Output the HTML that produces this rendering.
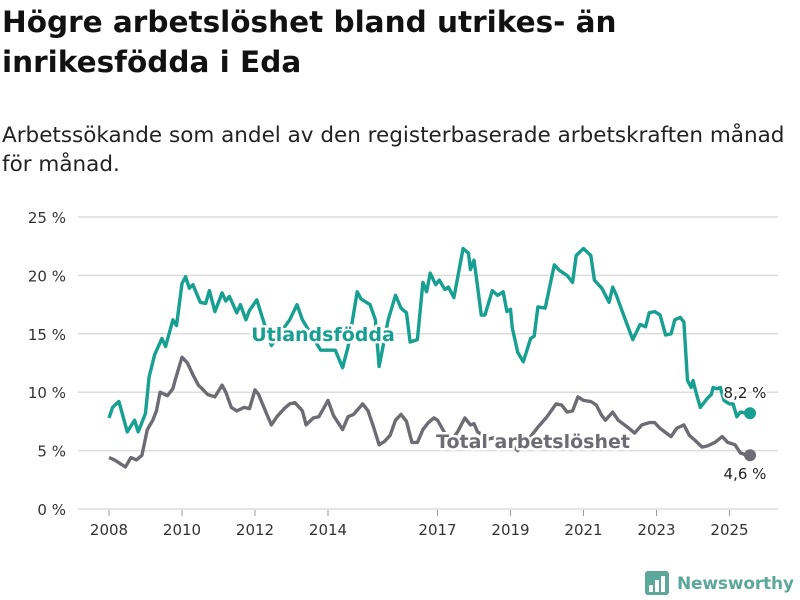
<!DOCTYPE html>
<html><head><meta charset="utf-8"><style>
body{margin:0;background:#fff;font-family:"Liberation Sans","DejaVu Sans",sans-serif;}
#wrap{position:relative;width:800px;height:600px;overflow:hidden;}
h1{position:absolute;left:2px;top:2px;margin:0;font-size:29.5px;line-height:40px;font-weight:bold;color:#111;font-family:"DejaVu Sans","Liberation Sans",sans-serif;letter-spacing:0px}
p.sub{position:absolute;left:2px;top:121px;margin:0;font-size:21.5px;line-height:29px;color:#222;font-family:"DejaVu Sans","Liberation Sans",sans-serif;letter-spacing:0px}
</style></head><body><div id="wrap">
<h1>Högre arbetslöshet bland utrikes- än<br>inrikesfödda i Eda</h1>
<p class="sub">Arbetssökande som andel av den registerbaserade arbetskraften månad<br>för månad.</p>
<svg id="chart" width="800" height="600" style="position:absolute;left:0;top:0"></svg>
</div>
<script>
const yTicks=[0,5,10,15,20,25];
const xTickYears=[2008,2010,2012,2014,2017,2019,2021,2023,2025];
const utlYears=[2008.0,2008.1,2008.27,2008.5,2008.7,2008.8,2009.0,2009.1,2009.25,2009.45,2009.55,2009.75,2009.85,2010.0,2010.1,2010.2,2010.3,2010.5,2010.65,2010.75,2010.9,2011.1,2011.2,2011.3,2011.5,2011.6,2011.75,2011.85,2012.05,2012.2,2012.45,2012.95,2013.15,2013.3,2013.8,2014.2,2014.4,2014.55,2014.8,2014.9,2015.05,2015.15,2015.3,2015.4,2015.65,2015.85,2016.0,2016.15,2016.25,2016.45,2016.6,2016.7,2016.8,2016.95,2017.05,2017.2,2017.3,2017.45,2017.7,2017.85,2017.9,2018.0,2018.05,2018.2,2018.3,2018.5,2018.65,2018.8,2018.9,2019.0,2019.05,2019.2,2019.35,2019.55,2019.65,2019.75,2019.95,2020.2,2020.35,2020.55,2020.7,2020.8,2021.0,2021.2,2021.3,2021.5,2021.7,2021.8,2021.9,2022.1,2022.35,2022.55,2022.7,2022.8,2022.95,2023.1,2023.25,2023.4,2023.5,2023.65,2023.75,2023.85,2023.95,2024.0,2024.1,2024.2,2024.4,2024.5,2024.55,2024.65,2024.75,2024.85,2025.0,2025.1,2025.2,2025.3,2025.48];
const utlValues=[7.8,8.7,9.2,6.6,7.6,6.6,8.2,11.3,13.2,14.6,13.9,16.2,15.7,19.3,19.9,18.9,19.2,17.7,17.6,18.7,16.9,18.5,17.8,18.2,16.8,17.5,16.2,17.0,17.9,16.4,14.0,16.2,17.5,16.2,13.6,13.6,12.1,13.9,18.6,18.0,17.7,17.5,16.2,12.2,16.2,18.3,17.2,16.8,14.3,14.5,19.4,18.6,20.2,19.2,19.6,18.8,19.0,18.1,22.3,21.9,20.5,21.3,20.2,16.6,16.6,18.7,18.3,18.6,16.9,17.1,15.5,13.4,12.6,14.6,14.8,17.3,17.2,20.9,20.4,20.0,19.4,21.7,22.3,21.7,19.6,18.9,17.7,19.0,18.3,16.6,14.5,15.8,15.6,16.8,16.9,16.6,14.9,15.0,16.2,16.4,16.0,11.0,10.4,11.0,9.8,8.7,9.5,9.8,10.4,10.3,10.4,9.3,9.0,9.0,7.9,8.3,8.2];
const totYears=[2008.0,2008.15,2008.45,2008.6,2008.75,2008.9,2009.05,2009.2,2009.3,2009.4,2009.6,2009.75,2009.8,2010.0,2010.15,2010.3,2010.45,2010.55,2010.7,2010.9,2011.1,2011.2,2011.35,2011.5,2011.7,2011.85,2012.0,2012.1,2012.3,2012.45,2012.6,2012.8,2012.95,2013.1,2013.3,2013.4,2013.6,2013.75,2014.0,2014.15,2014.4,2014.55,2014.7,2014.95,2015.1,2015.25,2015.4,2015.55,2015.7,2015.85,2016.0,2016.15,2016.3,2016.45,2016.6,2016.75,2016.9,2017.0,2017.2,2017.4,2017.55,2017.75,2017.9,2018.0,2018.1,2018.4,2018.7,2019.0,2019.2,2019.5,2019.75,2020.0,2020.25,2020.4,2020.55,2020.7,2020.85,2021.0,2021.2,2021.35,2021.5,2021.6,2021.8,2021.95,2022.25,2022.4,2022.6,2022.8,2022.95,2023.1,2023.4,2023.55,2023.75,2023.9,2024.05,2024.25,2024.4,2024.6,2024.8,2024.95,2025.15,2025.3,2025.48];
const totValues=[4.4,4.2,3.6,4.4,4.2,4.6,6.8,7.6,8.4,10.0,9.7,10.3,10.9,13.0,12.5,11.5,10.6,10.3,9.8,9.6,10.6,10.0,8.7,8.4,8.7,8.6,10.2,9.8,8.3,7.2,7.9,8.6,9.0,9.1,8.4,7.2,7.8,7.9,9.3,8.0,6.8,7.9,8.1,9.0,8.4,7.0,5.5,5.8,6.3,7.6,8.1,7.5,5.7,5.7,6.8,7.4,7.8,7.6,6.5,6.0,6.6,7.8,7.2,7.3,6.6,6.0,6.2,5.6,5.0,6.0,7.0,7.9,9.0,8.9,8.3,8.4,9.6,9.3,9.2,8.9,8.0,7.6,8.3,7.6,6.9,6.5,7.2,7.4,7.4,6.9,6.2,6.9,7.2,6.3,5.9,5.3,5.4,5.7,6.2,5.7,5.5,4.8,4.6];

const NS='http://www.w3.org/2000/svg';
const svg=document.getElementById('chart');
const yScale=v=>509-v*11.68;
const xScale=t=>109+(t-2008)*36.5;
function mk(tag,attrs,parent){const e=document.createElementNS(NS,tag);for(const k in attrs)e.setAttribute(k,attrs[k]);(parent||svg).appendChild(e);return e;}
const font='"DejaVu Sans","Liberation Sans",sans-serif';
yTicks.forEach(v=>{
  const g=mk('line',{x1:78,x2:778,y1:yScale(v),y2:yScale(v),stroke:'#dcdcdc','stroke-width':1.5});
  
  
  const t=mk('text',{x:66,y:yScale(v)+6,'text-anchor':'end','font-size':15,fill:'#333','font-family':font});
  t.textContent=v+' %';
  
  
});
xTickYears.forEach(y=>{
  const l=mk('line',{x1:xScale(y),x2:xScale(y),y1:510,y2:516,stroke:'#999','stroke-width':1});
  
  
  const t=mk('text',{x:xScale(y),y:535,'text-anchor':'middle','font-size':15,fill:'#333','font-family':font});
  t.textContent=y;
  
  
});
function line(xs,vs,color,name){
  const d=xs.map((x,i)=>(i?'L':'M')+xScale(x).toFixed(1)+','+yScale(vs[i]).toFixed(1)).join('');
  const p=mk('path',{d:d,fill:'none',stroke:color,'stroke-width':3.4,'stroke-linejoin':'round'});
  
  
  const n=xs.length-1;
  const c=mk('circle',{cx:xScale(xs[n])+3,cy:yScale(vs[n]),r:6,fill:color});
  
  
}
line(totYears,totValues,'#6d6b73','total-line');
line(utlYears,utlValues,'#17a091','utlandsfodda-line');
function label(txt,x,y,color,size,weight,anchor,name){
  const t=mk('text',{x:x,y:y,'text-anchor':anchor,'font-size':size,'font-weight':weight,fill:color,stroke:'#fff','stroke-width':weight=='bold'?5:4,'paint-order':'stroke','stroke-linejoin':'round','font-family':font});
  t.textContent=txt;
  
  
}
label('Utlandsfödda',323,341,'#17a091',19,'bold','middle','utlandsfodda-label');
label('Total arbetslöshet',533,448,'#6d6b73',19,'bold','middle','total-label');
label('8,2 %',745,398,'#222',15,'normal','middle','utlandsfodda-end-value');
label('4,6 %',745,479,'#222',15,'normal','middle','total-end-value');
const lg=mk('g',{});


mk('rect',{x:645,y:571,width:24,height:24,rx:3,fill:'#5ba89b'},lg);
[[649,585,4,7],[655,580,4,12],[661,576,4,16]].forEach(b=>mk('rect',{x:b[0],y:b[1],width:b[2],height:b[3],fill:'#fff'},lg));
const lt=mk('text',{x:677,y:589,'font-size':17,'font-weight':'bold',fill:'#5ba89b','font-family':font,textLength:117},lg);
lt.textContent='Newsworthy';
</script></body></html>
